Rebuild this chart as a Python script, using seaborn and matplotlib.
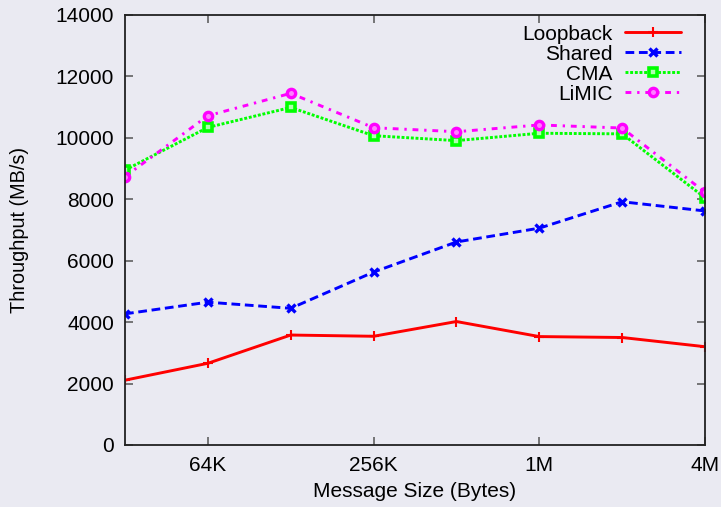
import matplotlib
matplotlib.use("Agg")
import matplotlib.pyplot as plt
import seaborn as sns
import pandas as pd

# Message sizes in bytes (32K .. 4M) and throughput in MB/s
sizes = [32768, 65536, 131072, 262144, 524288, 1048576, 2097152, 4194304]
loopback = [2110, 2660, 3580, 3540, 4020, 3530, 3500, 3200]
shared = [4270, 4650, 4450, 5630, 6610, 7060, 7920, 7620]
cma = [8950, 10340, 10990, 10070, 9910, 10150, 10130, 8050]
limic = [8740, 10720, 11450, 10330, 10200, 10420, 10320, 8230]

x_ticks = [65536, 262144, 1048576, 4194304]
x_tick_labels = ["64K", "256K", "1M", "4M"]
y_ticks = [0, 2000, 4000, 6000, 8000, 10000, 12000, 14000]

series = {"Loopback": loopback, "Shared": shared, "CMA": cma, "LiMIC": limic}
df = pd.DataFrame(
    [(name, s, v) for name, vals in series.items() for s, v in zip(sizes, vals)],
    columns=["series", "size", "throughput"],
)

sns.set_theme(style="dark", rc={"axes.facecolor": "#eaeaf2", "figure.facecolor": "#eaeaf2"})
plt.rcParams["font.family"] = ["Liberation Sans", "DejaVu Sans"]

fig = plt.figure(figsize=(7.21, 5.07), dpi=100)
ax = fig.add_axes([125 / 721, 62 / 507, 580 / 721, 430 / 507])

styles = {
    "Loopback": dict(color="#ff0000", marker="+", ms=7, mew=1.5, dashes=None, mfc="#ff0000"),
    "Shared": dict(color="#0000ff", marker="x", ms=5.5, mew=2.4, dashes=(3, 1.6), mfc="#0000ff"),
    "CMA": dict(color="#00ff00", marker="s", ms=6, mew=2.6, dashes=(1, 0.6), mfc="#b0ffb0"),
    "LiMIC": dict(color="#ff00ff", marker="o", ms=6, mew=2.4, dashes=(2, 2, 0.8, 2), mfc="#ff80ff"),
}

for name in series:
    st = styles[name]
    sub = df[df["series"] == name]
    sns.lineplot(data=sub, x="size", y="throughput", ax=ax, color=st["color"],
                 marker=st["marker"], markersize=st["ms"], markeredgewidth=st["mew"],
                 markeredgecolor=st["color"], markerfacecolor=st["mfc"],
                 linewidth=2.1, label=name)
    if st["dashes"] is not None:
        ax.lines[-1].set_dashes(st["dashes"])

ax.set_xscale("log", base=2)
ax.set_xlim(32768, 4194304)
ax.set_ylim(0, 14000)
ax.set_xticks(x_ticks)
ax.set_xticklabels(x_tick_labels)
ax.minorticks_off()
ax.set_yticks(y_ticks)
ax.set_yticklabels([str(v) for v in y_ticks])

for sp in ax.spines.values():
    sp.set_visible(True)
    sp.set_color("#222222")
    sp.set_linewidth(1.3)

ax.tick_params(axis="both", which="major", direction="in", length=6, width=1.1,
               color="#555555", labelsize=15, labelcolor="black",
               top=True, right=True, bottom=True, left=True)
ax.tick_params(axis="x", pad=8)
ax.tick_params(axis="y", pad=8)

ax.set_xlabel("Message Size (Bytes)", fontsize=15, color="black", labelpad=5)
ax.set_ylabel("Throughput (MB/s)", fontsize=14.3, color="black", labelpad=19)

leg = ax.legend(loc="upper right", bbox_to_anchor=(0.973, 0.997), markerfirst=False,
                frameon=False, fontsize=15, handlelength=2.7, handletextpad=0.6,
                labelspacing=0.05, borderaxespad=0)
for t in leg.get_texts():
    t.set_color("black")

fig.savefig("out.png", dpi=100, facecolor=fig.get_facecolor())
